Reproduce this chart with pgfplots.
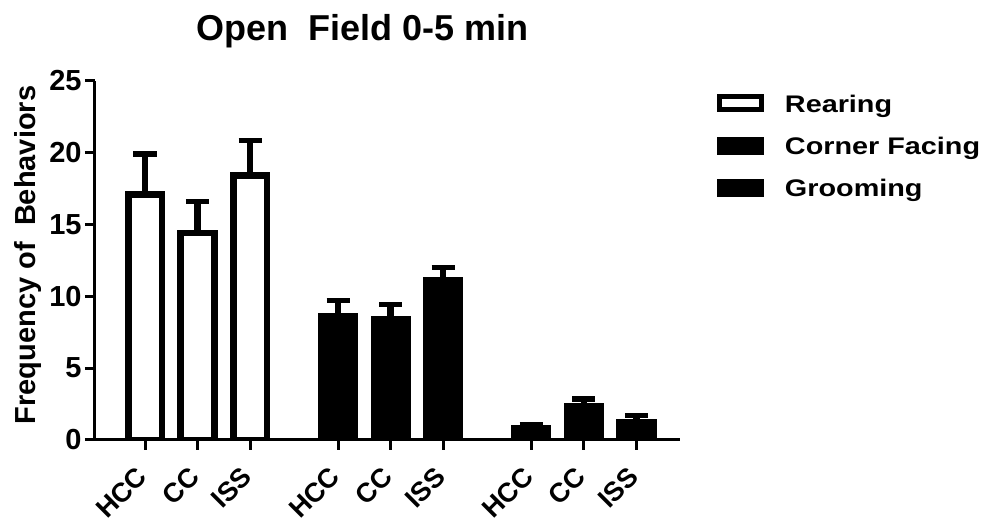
\documentclass[border=0pt]{standalone}
\usepackage{pgfplots}
\usepackage{pgfplotstable}
\pgfplotsset{compat=1.18}
\usepackage{fontspec}
\setmainfont{Liberation Sans}
\newfontfamily\legfont[FakeStretch=1.2]{Liberation Sans}

% mean and upper error (SEM) per housing group
\pgfplotstableread{
x     y     e
0     17.1  2.8
1     14.4  2.2
2     18.4  2.45
}\rearing
\pgfplotstableread{
x     y     e
3.674 8.6   1.1
4.674 8.4   1.05
5.674 11.1  0.9
}\corner
\pgfplotstableread{
x     y     e
7.35  0.8   0.3
8.35  2.35  0.5
9.35  1.2   0.5
}\grooming

\pgfplotsset{
  boxlegend/.style={legend image code/.code={%
    \draw[##1, line width=2.5pt] (0pt,-2.45pt) rectangle (20.85pt,4.05pt);}},
  gperr/.style={error bars/.cd, y dir=plus, y explicit,
    error bar style={line width=3.2pt, black},
    error mark options={rotate=90, mark size=5.8pt, line width=2.6pt, black}},
}

\begin{document}
\begin{tikzpicture}
\begin{axis}[
  name=ax,
  scale only axis,
  width=292.5pt, height=179.65pt,
  xmin=-0.952, xmax=10.18,
  ymin=0, ymax=25,
  ybar, bar width=0.64, /pgf/bar shift=0pt,
  axis x line*=bottom, axis y line*=left,
  axis line style={line width=1.5pt, -},
  tick align=outside,
  major tick length=5pt,
  tick style={line width=1.5pt, black},
  ytick={0,5,...,25},
  xtick={0,1,2,3.674,4.674,5.674,7.35,8.35,9.35},
  xticklabels={HCC,CC,ISS,HCC,CC,ISS,HCC,CC,ISS},
  /pgf/number format/assume math mode=true,
  yticklabel style={font=\fontsize{14.5}{16}\selectfont\bfseries, inner sep=1.5pt},
  xticklabel style={font=\fontsize{13.5}{15}\selectfont\bfseries,
    xshift=1pt, yshift=-8.5pt, rotate=45, anchor=east},
  title={Open\ \ Field 0-5 min},
  title style={font=\fontsize{18}{19}\selectfont\bfseries, at={(0.457,1.113)},
    anchor=base, yshift=-6pt},
  ylabel={Frequency of\ \ Behaviors},
  ylabel style={font=\fontsize{14.5}{15}\selectfont\bfseries,
    at={(axis description cs:-0.102,0.515)}, anchor=base},
  legend style={draw=none, fill=none, at={(1.063,0.973)}, anchor=north west,
    inner sep=0pt, row sep=7pt,
    font=\legfont\fontsize{12}{14}\selectfont\bfseries,
    /tikz/every odd column/.style={column sep=8.5pt}},
  legend cell align=left,
]
\addplot[fill=white, draw=black, line width=3.3pt, boxlegend, gperr]
  table[x=x, y=y, y error=e] {\rearing};
\addlegendentry{Rearing}
\addplot[fill=black, draw=black, line width=3.3pt, boxlegend, gperr]
  table[x=x, y=y, y error=e] {\corner};
\addlegendentry{Corner Facing}
\addplot[fill=black, draw=black, line width=3.3pt, boxlegend, gperr]
  table[x=x, y=y, y error=e] {\grooming};
\addlegendentry{Grooming}
\end{axis}
\pgfresetboundingbox
\path[use as bounding box] ([shift={(-47.5pt,-39.5pt)}]ax.south west)
  rectangle ([shift={(448.5pt,220pt)}]ax.south west);
\end{tikzpicture}
\end{document}
